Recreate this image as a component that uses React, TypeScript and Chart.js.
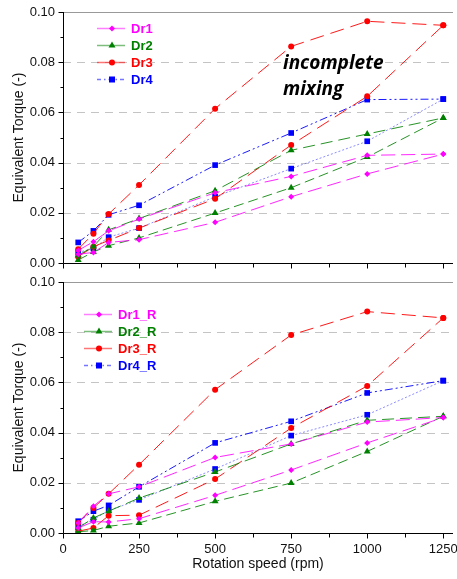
import React, { useEffect, useRef } from "react";
import { Chart, registerables } from "chart.js";

Chart.register(...registerables);

const speeds = [50, 100, 150, 250, 500, 750, 1000, 1250];

// Top panel
const dr1A = [0.005, 0.0085, 0.0128, 0.0175, 0.028, 0.0345, 0.0429, 0.0434];
const dr1B = [0.0035, 0.0042, 0.0082, 0.0093, 0.0162, 0.0264, 0.0355, 0.0434];
const dr2A = [0.003, 0.0066, 0.0132, 0.0177, 0.0288, 0.0449, 0.0514, 0.0578];
const dr2B = [0.0012, 0.0044, 0.0069, 0.01, 0.0199, 0.03, 0.0422, 0.0578];
const dr3A = [0.0055, 0.0117, 0.0195, 0.0311, 0.0615, 0.0863, 0.0963, 0.0947];
const dr3B = [0.0025, 0.0065, 0.009, 0.0139, 0.0256, 0.047, 0.0664, 0.0947];
const dr4A = [0.0082, 0.0128, 0.0192, 0.023, 0.039, 0.0518, 0.0651, 0.0653];
const dr4B = [0.0042, 0.0058, 0.0103, 0.0139, 0.0264, 0.0376, 0.0485, 0.0653];

// Bottom panel
const dr1RA = [0.004, 0.0107, 0.0156, 0.0184, 0.0301, 0.0355, 0.0442, 0.046];
const dr1RB = [0.002, 0.0045, 0.0044, 0.0057, 0.015, 0.0251, 0.0359, 0.046];
const dr2RA = [0.002, 0.006, 0.0087, 0.0139, 0.0243, 0.0355, 0.0449, 0.0465];
const dr2RB = [0.0005, 0.001, 0.0027, 0.004, 0.0126, 0.0199, 0.0325, 0.0465];
const dr3RA = [0.004, 0.01, 0.0156, 0.0272, 0.0571, 0.0789, 0.0882, 0.0857];
const dr3RB = [0.0007, 0.002, 0.0069, 0.0071, 0.0215, 0.0418, 0.0586, 0.0857];
const dr4RA = [0.0047, 0.0087, 0.011, 0.0184, 0.0359, 0.0445, 0.0558, 0.0607];
const dr4RB = [0.0027, 0.0053, 0.009, 0.0132, 0.0255, 0.0388, 0.0471, 0.0607];

const topLabels = ["Dr1", "Dr2", "Dr3", "Dr4"];
const bottomLabels = ["Dr1_R", "Dr2_R", "Dr3_R", "Dr4_R"];
const xTickLabels = ["0", "250", "500", "750", "1000", "1250"];
const yTickLabels = ["0.00", "0.02", "0.04", "0.06", "0.08", "0.10"];
const annotation = ["incomplete", "mixing"];

const FONT = "'Liberation Sans', Arial, sans-serif";

type Style = {
  marker: string;
  line: string;
  lineLight: string;
  point: string;
  radius: number;
  dashA: number[];
  dashB: number[];
};

const styles: Style[] = [
  { marker: "#ff00ff", line: "rgba(255,0,255,0.85)", lineLight: "rgba(255,0,255,0.85)", point: "rectRot", radius: 3, dashA: [14, 6], dashB: [14, 6] },
  { marker: "#008000", line: "rgba(0,128,0,0.85)", lineLight: "rgba(0,128,0,0.85)", point: "triangle", radius: 4, dashA: [12, 6], dashB: [10, 5] },
  { marker: "#ff0000", line: "rgba(255,0,0,0.9)", lineLight: "rgba(255,0,0,0.9)", point: "circle", radius: 3, dashA: [14, 7], dashB: [14, 7] },
  { marker: "#0000ff", line: "rgba(0,0,255,0.9)", lineLight: "rgba(90,90,255,0.7)", point: "rect", radius: 4, dashA: [8, 3, 2, 3, 2, 3], dashB: [2, 2] },
];

function makeDatasets(pairs: number[][][]) {
  const ds: any[] = [];
  pairs.forEach((pair, i) => {
    const s = styles[i];
    pair.forEach((vals, j) => {
      ds.push({
        data: speeds.map((x, k) => ({ x, y: vals[k] })),
        borderColor: j === 0 ? s.line : s.lineLight,
        backgroundColor: s.marker,
        pointBorderColor: s.marker,
        pointBackgroundColor: s.marker,
        pointStyle: s.point,
        pointRadius: s.radius,
        pointBorderWidth: 0,
        borderWidth: 1,
        borderDash: j === 0 ? s.dashA : s.dashB,
        tension: 0,
        fill: false,
      });
    });
  });
  return ds;
}

function drawMarker(ctx: CanvasRenderingContext2D, type: string, x: number, y: number, r: number, color: string) {
  ctx.save();
  ctx.fillStyle = color;
  ctx.beginPath();
  if (type === "circle") {
    ctx.arc(x, y, r, 0, Math.PI * 2);
  } else if (type === "triangle") {
    ctx.moveTo(x, y - r);
    ctx.lineTo(x + r * 0.87, y + r * 0.5);
    ctx.lineTo(x - r * 0.87, y + r * 0.5);
    ctx.closePath();
  } else if (type === "rect") {
    const h = r * 0.75;
    ctx.rect(x - h, y - h, h * 2, h * 2);
  } else {
    ctx.moveTo(x, y - r);
    ctx.lineTo(x + r, y);
    ctx.lineTo(x, y + r);
    ctx.lineTo(x - r, y);
    ctx.closePath();
  }
  ctx.fill();
  ctx.restore();
}

function framePlugin(opts: { legend: string[]; legendX: number; legendY: number; annotate: boolean }) {
  return {
    id: "frame",
    beforeDatasetsDraw(chart: any) {
      const { ctx, chartArea } = chart;
      const xs = chart.scales.x;
      const ys = chart.scales.y;
      ctx.save();
      // dashed gridlines
      ctx.strokeStyle = "#c4c4c4";
      ctx.lineWidth = 1;
      ctx.setLineDash([8, 6]);
      for (let v = 2; v <= 8; v += 2) {
        const py = Math.round(ys.getPixelForValue(v / 100)) + 0.5;
        ctx.beginPath();
        ctx.moveTo(chartArea.left, py);
        ctx.lineTo(chartArea.right, py);
        ctx.stroke();
      }
      ctx.setLineDash([]);
      // top border
      ctx.strokeStyle = "#999999";
      const top = Math.round(ys.getPixelForValue(0.1)) + 0.5;
      ctx.beginPath();
      ctx.moveTo(chartArea.left, top);
      ctx.lineTo(chartArea.right, top);
      ctx.stroke();
      // axes
      ctx.strokeStyle = "#000000";
      const left = Math.round(xs.getPixelForValue(0)) + 0.5;
      const bottom = Math.round(ys.getPixelForValue(0)) + 0.5;
      ctx.beginPath();
      ctx.moveTo(left, top - 0.5);
      ctx.lineTo(left, bottom);
      ctx.lineTo(chartArea.right, bottom);
      ctx.stroke();
      // y ticks
      for (let v = 0; v <= 10; v += 1) {
        const py = Math.round(ys.getPixelForValue(v / 100)) + 0.5;
        const len = v % 2 === 0 ? 5 : 3;
        ctx.beginPath();
        ctx.moveTo(left - len, py);
        ctx.lineTo(left, py);
        ctx.stroke();
      }
      // x ticks
      for (let v = 0; v <= 1250; v += 125) {
        const px = Math.round(xs.getPixelForValue(v)) + 0.5;
        const len = v % 250 === 0 ? 5 : 4;
        ctx.beginPath();
        ctx.moveTo(px, bottom);
        ctx.lineTo(px, bottom + len);
        ctx.stroke();
      }
      ctx.restore();
    },
    afterDraw(chart: any) {
      const { ctx } = chart;
      ctx.save();
      opts.legend.forEach((label, i) => {
        const s = styles[i];
        const y = opts.legendY + i * 17;
        const x0 = opts.legendX;
        ctx.strokeStyle = s.line;
        ctx.globalAlpha = 0.6;
        ctx.lineWidth = 1.5;
        ctx.setLineDash(i === 3 ? [4, 3, 1.5, 3] : []);
        ctx.beginPath();
        ctx.moveTo(x0, y + 0.5);
        ctx.lineTo(x0 + 28, y + 0.5);
        ctx.stroke();
        ctx.globalAlpha = 1;
        ctx.setLineDash([]);
        drawMarker(ctx, s.point, x0 + 15, y + 0.5, s.radius, s.marker);
        ctx.fillStyle = s.marker;
        ctx.font = `bold 13px ${FONT}`;
        ctx.textBaseline = "middle";
        ctx.textAlign = "left";
        ctx.fillText(label, x0 + 34, y + 1);
      });
      if (opts.annotate) {
        ctx.fillStyle = "#000000";
        ctx.font = `italic bold 19px 'Open Sans', sans-serif`;
        ctx.textBaseline = "alphabetic";
        ctx.fillText(annotation[0], 283, 69);
        ctx.fillText(annotation[1], 283, 95);
      }
      ctx.restore();
    },
  };
}

function buildConfig(datasets: any[], bottomAxis: boolean, plugin: any): any {
  return {
    type: "line",
    data: { datasets },
    plugins: [plugin],
    options: {
      animation: false,
      responsive: false,
      devicePixelRatio: 1,
      layout: { padding: { top: bottomAxis ? 10 : 12, left: 0, right: 0, bottom: 0 } },
      plugins: { legend: { display: false }, tooltip: { enabled: false } },
      scales: {
        x: {
          type: "linear",
          min: 0,
          max: 1282,
          grid: { display: false, drawTicks: false },
          border: { display: false },
          ticks: {
            stepSize: 125,
            includeBounds: false,
            autoSkip: false,
            maxRotation: 0,
            padding: 9,
            color: "#111",
            font: { family: FONT, size: 13 },
            display: bottomAxis,
            callback: (v: number) => {
              const i = Math.round(v / 250);
              return Math.abs(v - i * 250) < 1e-6 ? xTickLabels[i] : "";
            },
          },
          title: {
            display: bottomAxis,
            text: "Rotation speed (rpm)",
            color: "#111",
            font: { family: FONT, size: 14 },
            padding: { top: 0, bottom: 6 },
          },
          afterFit: (scale: any) => {
            scale.height = bottomAxis ? 46 : 9;
            scale.paddingLeft = 0;
            scale.paddingRight = 0;
          },
        },
        y: {
          type: "linear",
          min: 0,
          max: 0.1,
          grid: { display: false, drawTicks: false },
          border: { display: false },
          ticks: {
            stepSize: 0.01,
            autoSkip: false,
            padding: 8,
            color: "#111",
            font: { family: FONT, size: 13 },
            callback: (v: number) => {
              const n = Math.round(v * 100);
              return n % 2 === 0 ? yTickLabels[n / 2] : "";
            },
          },
          title: {
            display: true,
            text: "Equivalent Torque (-)",
            color: "#111",
            font: { family: FONT, size: 14 },
            padding: { top: 11, bottom: 0 },
          },
          afterFit: (scale: any) => {
            scale.width = 63;
            scale.paddingTop = 0;
            scale.paddingBottom = 0;
          },
        },
      },
    },
  };
}

export default function App() {
  const topRef = useRef<HTMLCanvasElement>(null);
  const botRef = useRef<HTMLCanvasElement>(null);

  useEffect(() => {
    const top = new Chart(
      topRef.current as HTMLCanvasElement,
      buildConfig(
        makeDatasets([
          [dr1A, dr1B],
          [dr2A, dr2B],
          [dr3A, dr3B],
          [dr4A, dr4B],
        ]),
        false,
        framePlugin({ legend: topLabels, legendX: 97, legendY: 28, annotate: true })
      )
    );
    const bot = new Chart(
      botRef.current as HTMLCanvasElement,
      buildConfig(
        makeDatasets([
          [dr1RA, dr1RB],
          [dr2RA, dr2RB],
          [dr3RA, dr3RB],
          [dr4RA, dr4RB],
        ]),
        true,
        framePlugin({ legend: bottomLabels, legendX: 84, legendY: 42, annotate: false })
      )
    );
    return () => {
      top.destroy();
      bot.destroy();
    };
  }, []);

  return (
    <div style={{ position: "absolute", left: 0, top: 0, width: 457, height: 579, background: "#fff" }}>
      <canvas ref={topRef} width={457} height={272} style={{ display: "block" }} />
      <canvas ref={botRef} width={457} height={307} style={{ display: "block" }} />
    </div>
  );
}
